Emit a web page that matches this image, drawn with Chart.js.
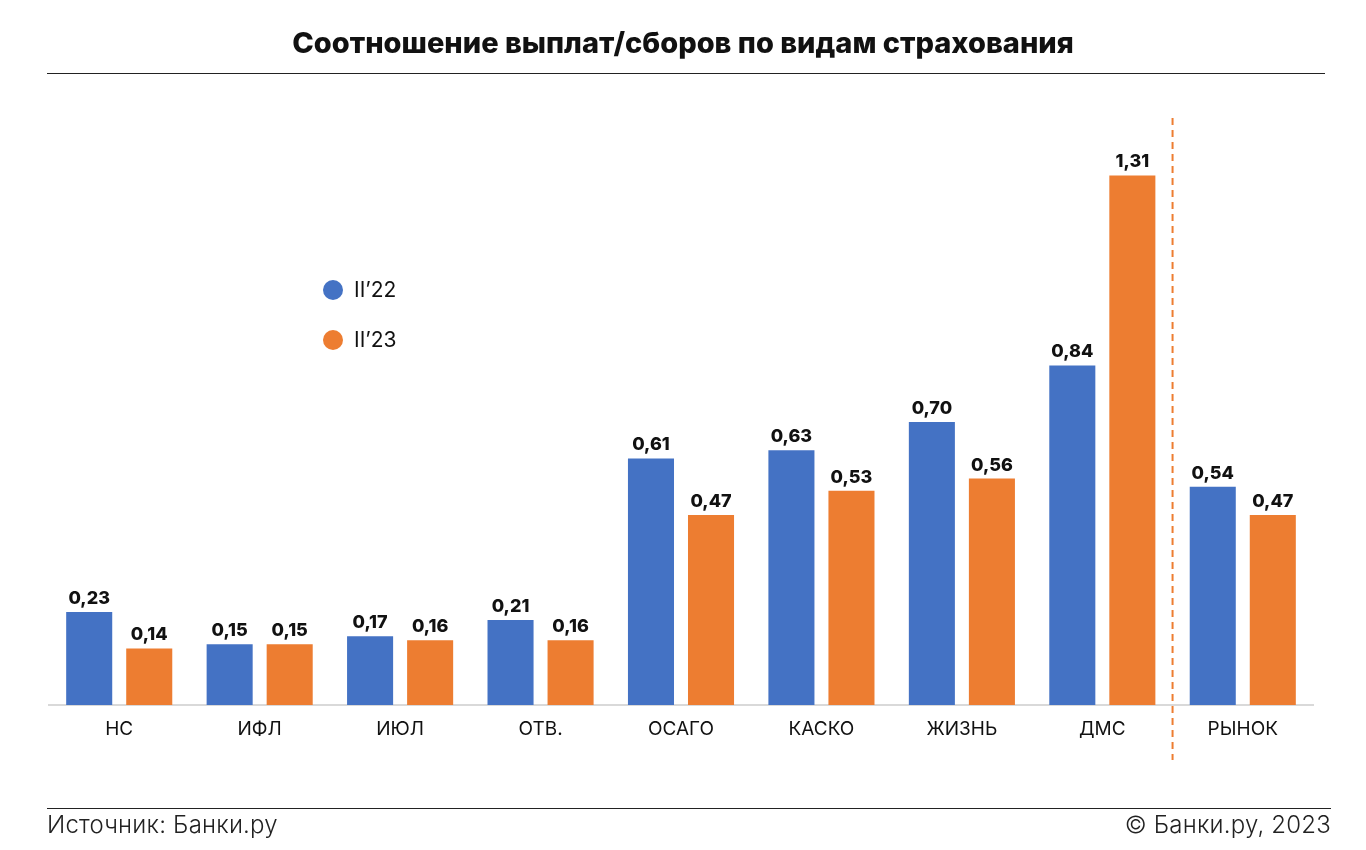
<!DOCTYPE html>
<html><head><meta charset="utf-8">
<script src="https://cdn.jsdelivr.net/npm/chart.js@4/dist/chart.umd.min.js"></script>
<style>
html,body{margin:0;padding:0;background:#fff;}
body{width:1366px;height:850px;position:relative;overflow:hidden;font-family:Inter,"Noto Sans",sans-serif;}
#title{position:absolute;left:0;width:1366px;top:25px;text-align:center;font-weight:800;font-size:29px;color:#111;letter-spacing:0px;}
#tline{position:absolute;left:47px;width:1278px;top:73px;height:1px;background:#222;}
#fline{position:absolute;left:47px;width:1284px;top:808px;height:1px;background:#222;}
#src{position:absolute;left:47px;top:810px;font-size:24px;font-weight:300;color:#222;letter-spacing:0.2px;}
#copy{position:absolute;right:35px;top:810px;font-size:24px;font-weight:300;color:#222;letter-spacing:0.2px;}
#wrap{position:absolute;left:0;top:0;width:1366px;height:850px;}
</style></head><body>
<div id="wrap"><canvas id="c" width="1366" height="850"></canvas></div>
<div id="title">Соотношение выплат/сборов по видам страхования</div>
<div id="tline"></div>
<div id="fline"></div>
<div id="src">Источник: Банки.ру</div>
<div id="copy">© Банки.ру, 2023</div>
<script>
const categories = ["НС","ИФЛ","ИЮЛ","ОТВ.","ОСАГО","КАСКО","ЖИЗНЬ","ДМС","РЫНОК"];
const seriesNames = ["II’22","II’23"];
const values2022 = [0.23,0.15,0.17,0.21,0.61,0.63,0.70,0.84,0.54];
const values2023 = [0.14,0.15,0.16,0.16,0.47,0.53,0.56,1.31,0.47];
const dividerAfterIndex = 7;

const BLUE = "#4472C4", ORANGE = "#ED7D31";
const FONT = "Inter, 'Noto Sans', sans-serif";

const extras = {
  id: "extras",
  afterDatasetsDraw(chart) {
    const ctx = chart.ctx;
    ctx.save();
    ctx.font = "800 18px " + FONT;
    ctx.fillStyle = "#111";
    ctx.textAlign = "center";
    ctx.textBaseline = "alphabetic";
    chart.data.datasets.forEach((ds, di) => {
      const meta = chart.getDatasetMeta(di);
      meta.data.forEach((bar, i) => {
        ctx.fillText(ds.data[i].toFixed(2).replace(".", ","), bar.x, bar.y - 8);
      });
    });
    ctx.restore();
    const xs = chart.scales.x;
    const xd = (xs.getPixelForValue(dividerAfterIndex) + xs.getPixelForValue(dividerAfterIndex + 1)) / 2;
    ctx.save();
    ctx.strokeStyle = ORANGE;
    ctx.lineWidth = 2;
    ctx.setLineDash([7, 5]);
    ctx.beginPath();
    ctx.moveTo(xd, 118);
    ctx.lineTo(xd, 760);
    ctx.stroke();
    ctx.restore();
    ctx.save();
    ctx.font = "400 21px " + FONT;
    ctx.textBaseline = "middle";
    ctx.textAlign = "left";
    chart.data.datasets.forEach((ds, di) => {
      const y = 290 + di * 50;
      ctx.fillStyle = ds.backgroundColor;
      ctx.beginPath();
      ctx.arc(333, y, 10, 0, Math.PI * 2);
      ctx.fill();
      ctx.fillStyle = "#111";
      ctx.fillText(ds.label, 354, y + 1);
    });
    ctx.restore();
  }
};

new Chart(document.getElementById("c"), {
  type: "bar",
  data: {
    labels: categories,
    datasets: [
      { label: seriesNames[0], data: values2022, backgroundColor: BLUE },
      { label: seriesNames[1], data: values2023, backgroundColor: ORANGE }
    ]
  },
  options: {
    responsive: false,
    animation: false,
    devicePixelRatio: 1,
    layout: { padding: { left: 49, right: 53, top: 139, bottom: 0 } },
    categoryPercentage: 0.855,
    barPercentage: 0.767,
    plugins: { legend: { display: false }, tooltip: { enabled: false } },
    scales: {
      y: { display: false, min: 0, max: 1.4 },
      x: {
        grid: { display: false, drawTicks: false },
        border: { display: true, color: "#d9d9d9", width: 2 },
        ticks: { color: "#111", font: { family: FONT, size: 19 }, padding: 13 },
        afterFit(s) { s.height = 145; }
      }
    }
  },
  plugins: [extras]
});
</script>
</body></html>
